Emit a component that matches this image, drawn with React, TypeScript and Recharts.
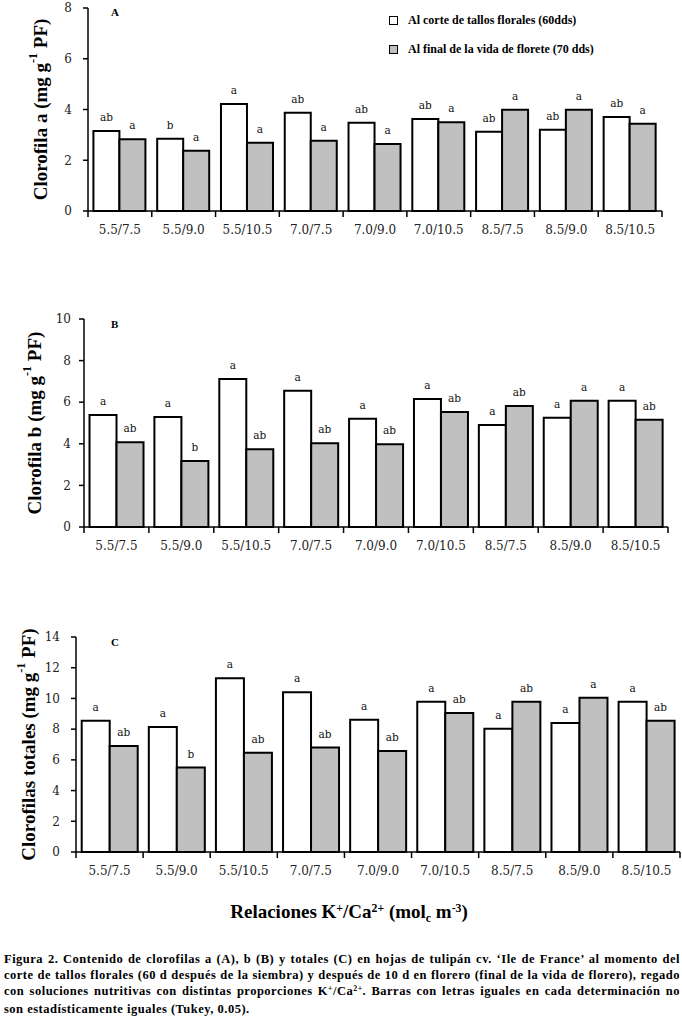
import React from "react";
import { BarChart, Bar, XAxis, YAxis, LabelList, Legend } from "recharts";

// K+/Ca2+ ratios (mol_c m-3)
const relaciones = ["5.5/7.5", "5.5/9.0", "5.5/10.5", "7.0/7.5", "7.0/9.0", "7.0/10.5", "8.5/7.5", "8.5/9.0", "8.5/10.5"];

// A: clorofila a
const clorA_corte = [3.15, 2.85, 4.22, 3.87, 3.48, 3.63, 3.12, 3.2, 3.7];
const clorA_final = [2.83, 2.37, 2.69, 2.77, 2.64, 3.5, 3.99, 3.99, 3.44];
const letrasA_corte = ["ab", "b", "a", "ab", "ab", "ab", "ab", "ab", "ab"];
const letrasA_final = ["a", "a", "a", "a", "a", "a", "a", "a", "a"];

// B: clorofila b
const clorB_corte = [5.38, 5.29, 7.12, 6.55, 5.2, 6.15, 4.9, 5.25, 6.07];
const clorB_final = [4.08, 3.17, 3.74, 4.03, 3.98, 5.53, 5.82, 6.07, 5.16];
const letrasB_corte = ["a", "a", "a", "a", "a", "a", "a", "a", "a"];
const letrasB_final = ["ab", "b", "ab", "ab", "ab", "ab", "ab", "a", "ab"];

// C: clorofilas totales
const clorT_corte = [8.55, 8.14, 11.32, 10.41, 8.61, 9.78, 8.03, 8.4, 9.78];
const clorT_final = [6.9, 5.5, 6.47, 6.8, 6.58, 9.05, 9.78, 10.04, 8.55];
const letrasT_corte = ["a", "a", "a", "a", "a", "a", "a", "a", "a"];
const letrasT_final = ["ab", "b", "ab", "ab", "ab", "ab", "ab", "a", "ab"];

const ticksA = [0, 2, 4, 6, 8];
const ticksB = [0, 2, 4, 6, 8, 10];
const ticksT = [0, 2, 4, 6, 8, 10, 12, 14];

const serieCorte = "Al corte de tallos florales (60dds)";
const serieFinal = "Al final de la vida de florete (70 dds)";

const SERIF = "'Liberation Serif', 'Times New Roman', serif";
const TICKFONT = "'DejaVu Serif', serif";

const build = (corte: number[], final: number[], lc: string[], lf: string[]) =>
  relaciones.map((r, i) => ({ rel: r, corte: corte[i], final: final[i], lc: lc[i], lf: lf[i] }));

const letter = (p: any) => {
  const { x, y, width, value } = p;
  return (
    <text x={x + width / 2} y={y - 10} textAnchor="middle" fontFamily={TICKFONT} fontSize={10.5} fill="#111">
      {value}
    </text>
  );
};

const makeTick = (band: number, n: number) => (props: any) => {
  const { x, y, payload, index } = props;
  return (
    <g>
      <line x1={x - band / 2} x2={x - band / 2} y1={y} y2={y + 6} stroke="#000" strokeWidth={1.5} />
      {index === n - 1 && <line x1={x + band / 2} x2={x + band / 2} y1={y} y2={y + 6} stroke="#000" strokeWidth={1.5} />}
      <text x={x} y={y + 23} textAnchor="middle" fontFamily={TICKFONT} fontSize={12} fill="#222">
        {payload.value}
      </text>
    </g>
  );
};

const LegendBox = (p: any) => (
  <div style={{ fontFamily: SERIF, fontWeight: 700, fontSize: 12, color: "#000" }}>
    {(p.payload || []).map((e: any, i: number) => (
      <div key={i} style={{ display: "flex", alignItems: "center", height: 15, marginBottom: 14, whiteSpace: "nowrap" }}>
        <span style={{ display: "inline-block", width: 7, height: 7, border: "1.5px solid #000", background: e.color, marginRight: 10 }} />
        {e.value}
      </div>
    ))}
  </div>
);

interface PanelProps {
  top: number;
  height: number;
  margin: { top: number; right: number; left: number; bottom: number };
  data: any[];
  ticks: number[];
  title: string;
  titleX: number;
  panel: string;
  panelY: number;
  tickMargin: number;
  legend?: boolean;
}

function Panel({ top, height, margin, data, ticks, title, titleX, panel, panelY, tickMargin, legend }: PanelProps) {
  const yW = 50;
  const plotW = 682 - margin.left - yW - margin.right;
  const band = plotW / relaciones.length;
  const plotH = height - margin.top - margin.bottom - 30;
  return (
    <div style={{ position: "absolute", left: 0, top }}>
      <BarChart width={682} height={height} data={data} margin={margin} barCategoryGap="8.5%" barGap={0}>
        <XAxis
          dataKey="rel"
          interval={0}
          height={30}
          axisLine={{ stroke: "#000", strokeWidth: 1.5 }}
          tickLine={false}
          tickSize={0}
          tickMargin={0}
          tick={makeTick(band, relaciones.length)}
        />
        <YAxis
          width={yW}
          domain={[0, ticks[ticks.length - 1]]}
          ticks={ticks}
          interval={0}
          axisLine={{ stroke: "#000", strokeWidth: 1.5 }}
          tickLine={{ stroke: "#000", strokeWidth: 1.5 }}
          tickSize={5}
          tickMargin={tickMargin}
          tick={{ fontFamily: TICKFONT, fontSize: 12, fill: "#222" }}
          label={() => {
            const cy = margin.top + plotH / 2;
            return (
              <g>
                <text
                  transform={`translate(${titleX},${cy}) rotate(-90)`}
                  textAnchor="middle"
                  dominantBaseline="central"
                  fontFamily={SERIF}
                  fontWeight={700}
                  fontSize={19}
                  fill="#000"
                >
                  {title} (mg g
                  <tspan dy={-7} fontSize={12}>-1</tspan>
                  <tspan dy={7}> PF)</tspan>
                </text>
                <text x={111} y={panelY} fontFamily={SERIF} fontWeight={700} fontSize={11} fill="#000">
                  {panel}
                </text>
              </g>
            );
          }}
        />
        {legend && (
          <Legend
            layout="vertical"
            align="center"
            verticalAlign="middle"
            wrapperStyle={{ top: 13, left: 389, width: "auto", height: "auto" }}
            content={LegendBox}
          />
        )}
        <Bar dataKey="corte" name={serieCorte} fill="#ffffff" stroke="#000" strokeWidth={2} isAnimationActive={false}>
          <LabelList dataKey="lc" content={letter} />
        </Bar>
        <Bar dataKey="final" name={serieFinal} fill="#c0c0c0" stroke="#000" strokeWidth={2} isAnimationActive={false}>
          <LabelList dataKey="lf" content={letter} />
        </Bar>
      </BarChart>
    </div>
  );
}

const supStyle: React.CSSProperties = { fontSize: "0.62em", position: "relative", top: "-0.5em", verticalAlign: "baseline" };
const subStyle: React.CSSProperties = { fontSize: "0.62em", position: "relative", top: "0.3em", verticalAlign: "baseline" };

const just: React.CSSProperties = { textAlign: "justify", textAlignLast: "justify", whiteSpace: "nowrap" };

export default function App() {
  return (
    <div style={{ position: "absolute", left: 0, top: 0, width: 682, height: 1021, background: "#fff", overflow: "hidden" }}>
      <Panel
        top={0}
        height={245}
        margin={{ top: 8, right: 20, left: 38, bottom: 4 }}
        data={build(clorA_corte, clorA_final, letrasA_corte, letrasA_final)}
        ticks={ticksA}
        title="Clorofila a"
        titleX={40}
        panel="A"
        panelY={16}
        tickMargin={11}
        legend
      />
      <Panel
        top={300}
        height={260}
        margin={{ top: 19, right: 14, left: 34, bottom: 3 }}
        data={build(clorB_corte, clorB_final, letrasB_corte, letrasB_final)}
        ticks={ticksB}
        title="Clorofila b"
        titleX={34}
        panel="B"
        panelY={28}
        tickMargin={8}
      />
      <Panel
        top={620}
        height={270}
        margin={{ top: 17, right: 2, left: 26, bottom: 8 }}
        data={build(clorT_corte, clorT_final, letrasT_corte, letrasT_final)}
        ticks={ticksT}
        title="Clorofilas totales"
        titleX={28}
        panel="C"
        panelY={26}
        tickMargin={11}
      />
      <div style={{ position: "absolute", left: 149, top: 900, width: 400, textAlign: "center", fontFamily: SERIF, fontWeight: 700, fontSize: 19, lineHeight: "24px", color: "#000" }}>
        Relaciones K<span style={supStyle}>+</span>/Ca<span style={supStyle}>2+</span> (mol<span style={subStyle}>c</span> m<span style={supStyle}>-3</span>)
      </div>
      <div style={{ position: "absolute", left: 4, top: 951, width: 676, fontFamily: SERIF, fontWeight: 700, fontSize: 12.5, letterSpacing: 0.5, lineHeight: "16px", color: "#000" }}>
        <div style={just}>Figura 2. Contenido de clorofilas a (A), b (B) y totales (C) en hojas de tulipán cv. ‘Ile de France’ al momento del</div>
        <div style={just}>corte de tallos florales (60 d después de la siembra) y después de 10 d en florero (final de la vida de florero), regado</div>
        <div style={just}>
          con soluciones nutritivas con distintas proporciones K<span style={supStyle}>+</span>/Ca<span style={supStyle}>2+</span>. Barras con letras iguales en cada determinación no
        </div>
        <div>son estadísticamente iguales (Tukey, 0.05).</div>
      </div>
    </div>
  );
}
